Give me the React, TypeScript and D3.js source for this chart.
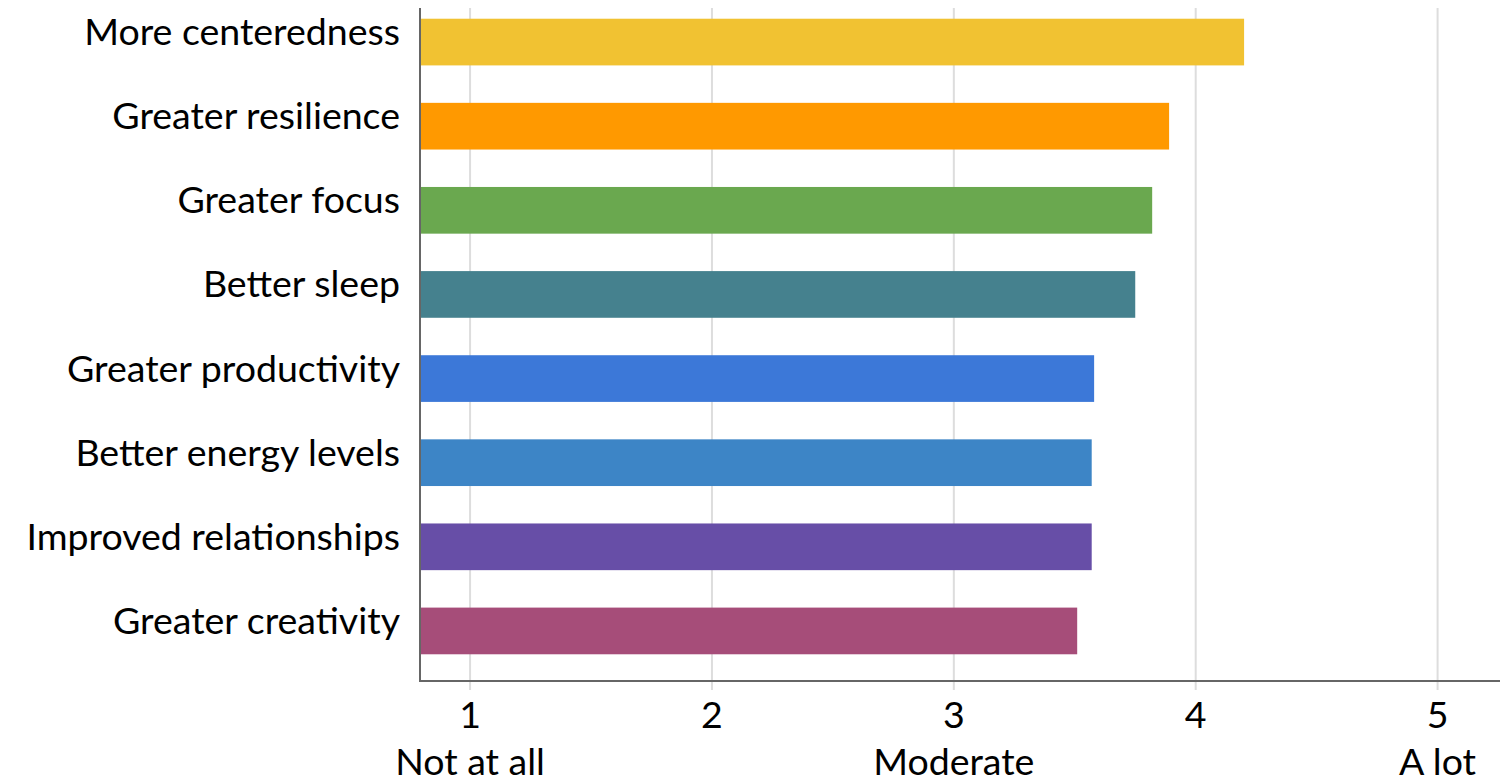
import React from "react";
import * as d3 from "d3";

const categories = [
  "More centeredness",
  "Greater resilience",
  "Greater focus",
  "Better sleep",
  "Greater productivity",
  "Better energy levels",
  "Improved relationships",
  "Greater creativity",
];
const values = [4.2, 3.89, 3.82, 3.75, 3.58, 3.57, 3.57, 3.51];
const colors = ["#F1C232", "#FF9900", "#6AA84F", "#45818E", "#3C78D8", "#3D85C6", "#674EA7", "#A64D79"];
const tickValues = [1, 2, 3, 4, 5];
const tickSubLabels = ["Not at all", "", "Moderate", "", "A lot"];

const W = 1501;
const H = 782;
const FONT = "Lato, 'Noto Sans', sans-serif";
const FS = 37.5;

export default function App() {
  const left = 420;
  const right = 1500;
  const axisY = 681;
  const x = d3.scaleLinear().domain([0.793, 5.258]).range([left, right]);
  const y = d3.scaleBand<string>().domain(categories).range([0, 673]).paddingInner(0.445).paddingOuter(0.2225);

  return (
    <svg width={W} height={H} style={{ position: "absolute", left: 0, top: 0 }} fontFamily={FONT}>
      {tickValues.map((t) => (
        <line key={"g" + t} x1={x(t)} x2={x(t)} y1={8} y2={690} stroke="#dddddd" strokeWidth={2} />
      ))}
      {categories.map((c, i) => (
        <rect key={c} x={x(0.793)} y={y(c)} width={x(values[i]) - x(0.793)} height={y.bandwidth()} fill={colors[i]} />
      ))}
      <line x1={left} x2={left} y1={8} y2={axisY} stroke="#666" strokeWidth={2} />
      <line x1={left - 1} x2={right} y1={axisY} y2={axisY} stroke="#666" strokeWidth={2} />
      {categories.map((c) => (
        <text key={"l" + c} x={400} y={(y(c) as number) + y.bandwidth() / 2 + 3} textAnchor="end" fontSize={FS} fill="#000">
          {c}
        </text>
      ))}
      {tickValues.map((t, i) => (
        <g key={"t" + t}>
          <text x={x(t)} y={728} textAnchor="middle" fontSize={FS} fill="#000">
            {t}
          </text>
          {tickSubLabels[i] && (
            <text x={x(t)} y={775} textAnchor="middle" fontSize={FS} fill="#000">
              {tickSubLabels[i]}
            </text>
          )}
        </g>
      ))}
    </svg>
  );
}
